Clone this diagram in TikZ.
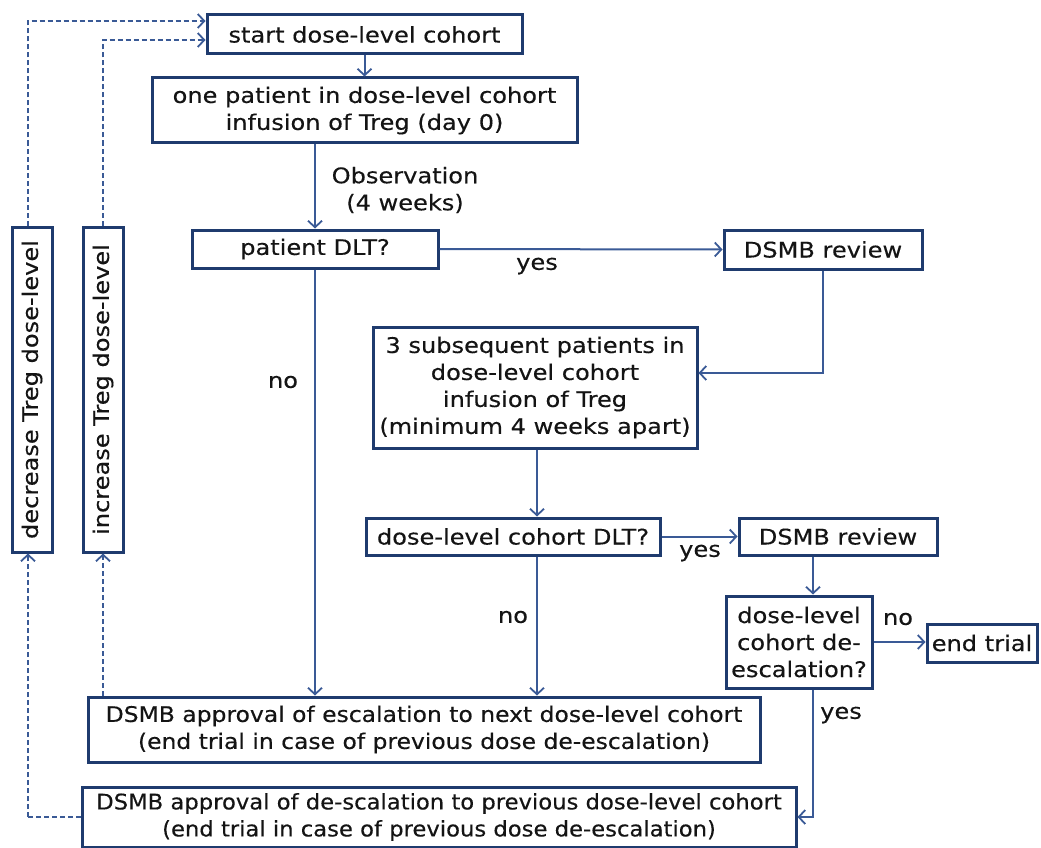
\documentclass[tikz,border=0pt]{standalone}
\usepackage{fontspec}
\setmainfont[FakeStretch=1.12,FakeBold=0.3]{DejaVu Sans}
\newfontfamily\escf[FakeStretch=1.09,FakeBold=0.3]{DejaVu Sans}
\newfontfamily\descf[FakeStretch=1.055,FakeBold=0.3]{DejaVu Sans}
\usetikzlibrary{arrows.meta}
\definecolor{boxc}{HTML}{1F3B6E}
\definecolor{linec}{HTML}{3A5A96}
\definecolor{txt}{HTML}{141414}
\begin{document}
\begin{tikzpicture}[x=1pt,y=-1pt,
  box/.style={draw=boxc,line width=3pt,fill=white,text=txt,align=center,inner sep=0pt,
    font=\fontsize{21.5}{27}\selectfont},
  conn/.style={draw=linec,line width=2pt,-{Straight Barb[length=6.5pt,width=14pt,line width=1.8pt]}},
  dconn/.style={conn,dashed,dash pattern=on 5pt off 3pt},
  lbl/.style={text=txt,align=center,inner sep=0pt,font=\fontsize{21.5}{27}\selectfont}]
\useasboundingbox (0,0) rectangle (1041,848);
\node[box,minimum width=315pt,minimum height=39pt] (start) at (364.5,34.5) {start dose-level cohort};
\node[box,minimum width=425pt,minimum height=65pt] (one) at (364.5,110.5) {one patient in dose-level cohort\\infusion of Treg (day 0)};
\node[box,minimum width=246pt,minimum height=38pt] (pdlt) at (315,249) {patient DLT?};
\node[box,minimum width=198pt,minimum height=39pt] (rev1) at (823,249.5) {DSMB review};
\node[box,minimum width=324pt,minimum height=121pt] (three) at (535,387.5) {3 subsequent patients in\\dose-level cohort\\infusion of Treg\\(minimum 4 weeks apart)};
\node[box,minimum width=294pt,minimum height=37pt] (cdlt) at (513,536.5) {dose-level cohort DLT?};
\node[box,minimum width=198pt,minimum height=37pt] (rev2) at (838,536.5) {DSMB review};
\node[box,minimum width=146pt,minimum height=92pt] (desc) at (799,642) {dose-level\\cohort de-\\escalation?};
\node[box,minimum width=110pt,minimum height=38pt] (end) at (982,643) {end trial};
\node[box,minimum width=672pt,minimum height=65pt,font=\escf\fontsize{21.5}{27}\selectfont] (appesc) at (424,729.5) {DSMB approval of escalation to next dose-level cohort\\(end trial in case of previous dose de-escalation)};
\node[box,minimum width=714pt,minimum height=60pt,font=\descf\fontsize{21.5}{27}\selectfont] (appdesc) at (439,817) {DSMB approval of de-scalation to previous dose-level cohort\\(end trial in case of previous dose de-escalation)};
\node[box,minimum width=40pt,minimum height=325pt] (dec) at (32,389.5) {};
\node[rotate=90,lbl] at (dec.center) {decrease Treg dose-level};
\node[box,minimum width=40pt,minimum height=325pt] (inc) at (103,389.5) {};
\node[rotate=90,lbl] at (inc.center) {increase Treg dose-level};
% connectors
\draw[conn] (start.south) -- (one.north);
\draw[conn] (one.south -| pdlt) -- (pdlt.north);
\node[lbl] (obs) at (405,190) {Observation\\(4 weeks)};
\draw[conn] (pdlt.east) -- (rev1.west);
\node[lbl] (yes1) at (537,266) {yes};
\coordinate (c1) at (823,373);
\draw[conn] (rev1.south) -- (c1) -- (c1 -| three.east);
\draw[conn] (three.south -| 537,0) -- (cdlt.north -| 537,0);
\draw[conn] (pdlt.south) -- (pdlt.south |- appesc.north);
\node[lbl] (no1) at (283,382) {no};
\draw[conn] (cdlt.south -| 537,0) -- (appesc.north -| 537,0);
\node[lbl] (no2) at (513,617) {no};
\draw[conn] (cdlt.east) -- (rev2.west);
\node[lbl] (yes2) at (700,553) {yes};
\draw[conn] (rev2.south -| 813,0) -- (desc.north -| 813,0);
\draw[conn] (desc.east) -- (desc.east -| end.west);
\node[lbl] (no3) at (898,619) {no};
\coordinate (c2) at (813,817);
\draw[conn] (desc.south -| 813,0) -- (c2) -- (appdesc.east);
\node[lbl] (yes3) at (841,715) {yes};
% dashed feedback
\draw[dconn] (appesc.north -| inc) -- (inc.south);
\coordinate (c3) at (103,40);
\draw[dconn] (inc.north) -- (c3) -- (c3 -| start.west);
\coordinate (c4) at (28,817);
\draw[dconn,-] (appdesc.west) -- (c4);
\draw[dconn] (c4) -- (dec.south -| c4);
\coordinate (c5) at (28,21);
\draw[dconn] (dec.north -| c5) -- (c5) -- (c5 -| start.west);
\end{tikzpicture}
\end{document}
